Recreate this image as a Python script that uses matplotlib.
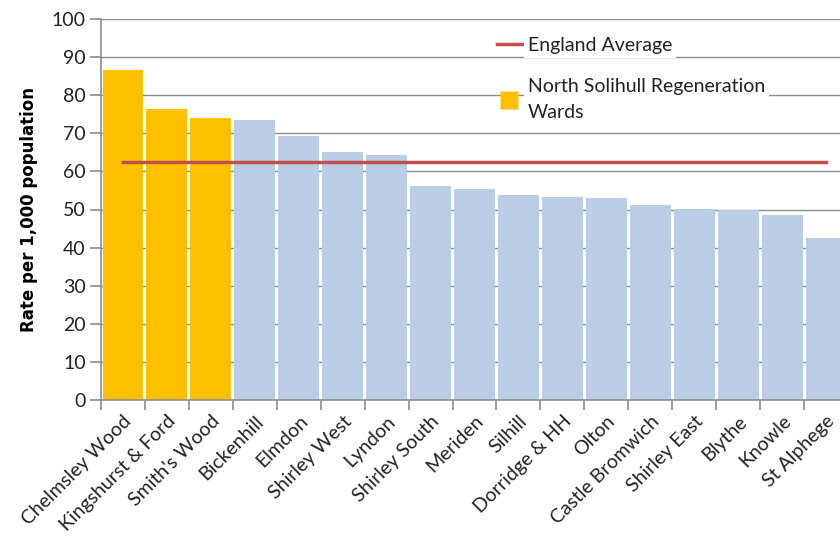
import matplotlib
matplotlib.use("Agg")
import matplotlib.pyplot as plt
from matplotlib.lines import Line2D

wards = ["Chelmsley Wood", "Kingshurst & Ford", "Smith's Wood", "Bickenhill", "Elmdon",
         "Shirley West", "Lyndon", "Shirley South", "Meriden", "Silhill", "Dorridge & HH",
         "Olton", "Castle Bromwich", "Shirley East", "Blythe", "Knowle", "St Alphege"]
rates = [86.7, 76.4, 74.0, 73.5, 69.3, 65.1, 64.3, 56.2, 55.4, 53.8, 53.3, 53.0,
         51.2, 50.1, 49.9, 48.6, 42.5]
north_solihull = ["Chelmsley Wood", "Kingshurst & Ford", "Smith's Wood"]
england_average = 62.5

plt.rcParams['font.family'] = ['Lato', 'DejaVu Sans']

fig = plt.figure(figsize=(8.4, 5.36), dpi=100)
ax = fig.add_axes([101/840, 136/536, 747/840, 381/536])

x = list(range(len(wards)))
colors = ["#FFC000" if w in north_solihull else "#B9CDE5" for w in wards]
ax.bar(x, rates, width=0.93, color=colors, zorder=2)
ax.plot([x[0], x[-1]], [england_average, england_average], color="#C0504D", lw=2.5, zorder=3)

ax.set_xlim(-0.5, len(wards) - 0.5)
ax.set_ylim(0, 100)
ax.set_yticks(range(0, 101, 10))
ax.yaxis.grid(True, color="#8C8C8C", lw=1, zorder=0)
ax.set_axisbelow(True)

for s in ["top", "right"]:
    ax.spines[s].set_visible(False)
for s in ["left", "bottom"]:
    ax.spines[s].set_color("#8C8C8C")
    ax.spines[s].set_linewidth(1.2)

ax.set_xticks(x)
ax.set_xticklabels(wards, rotation=45, ha="right", rotation_mode="anchor",
                   fontsize=14, color="#222222")
ax.tick_params(axis="x", length=0, pad=9)
ax.set_xticks([i - 0.5 for i in range(len(wards) + 1)], minor=True)
ax.tick_params(axis="x", which="minor", length=7, color="#8C8C8C", width=1.2)
ax.tick_params(axis="y", length=8, color="#8C8C8C", width=1.2, labelsize=14,
               labelcolor="#222222", pad=3)

ax.set_ylabel("Rate per 1,000 population", fontsize=12, fontweight="bold",
              family=["DejaVu Sans"])
ax.yaxis.set_label_coords(-0.085, 0.5)

handles = [Line2D([0], [0], color="#C0504D", lw=2.5),
           Line2D([0], [0], color="none", marker="s", markersize=13,
                  markerfacecolor="#FFC000", markeredgecolor="none")]
labels = ["England Average", "North Solihull Regeneration\nWards"]
leg = ax.legend(handles, labels, loc="upper left", bbox_to_anchor=(0.527, 0.958),
                borderaxespad=0, frameon=False, fontsize=14, handlelength=1.3,
                handletextpad=0.3, labelspacing=1.25, borderpad=0.1)
for t in leg.get_texts():
    t.set_color("#222222")
    t.set_linespacing(1.6)
    t.set_bbox(dict(facecolor="white", edgecolor="none", pad=3))

fig.savefig("out.png", dpi=100)
